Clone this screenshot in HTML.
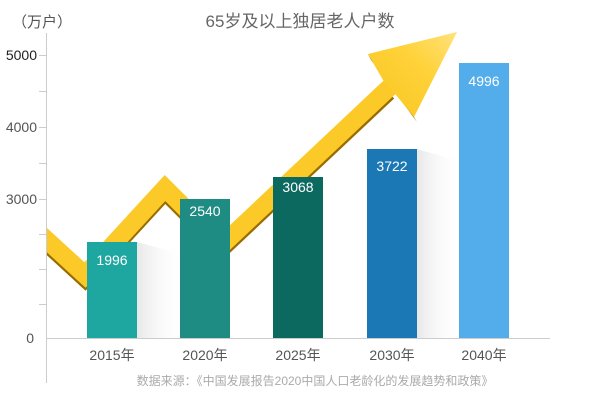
<!DOCTYPE html>
<html><head><meta charset="utf-8"><style>
body{margin:0;background:#fff;}
svg text{font-family:"Liberation Sans","Noto Sans CJK SC",sans-serif;}
</style></head><body>
<svg width="600" height="400" xmlns="http://www.w3.org/2000/svg">
<defs>
<linearGradient id="g" x1="0" y1="1" x2="1" y2="0">
<stop offset="0" stop-color="#f8c51e"/><stop offset="0.6" stop-color="#ffd23a"/><stop offset="1" stop-color="#ffe27a"/></linearGradient>
<linearGradient id="sh" x1="0" y1="0" x2="1" y2="0"><stop offset="0" stop-color="#e8e8e8"/><stop offset="1" stop-color="#fff" stop-opacity="0"/></linearGradient>
<clipPath id="c"><rect x="47" y="0" width="553" height="400"/></clipPath>
</defs>
<text x="12" y="27" font-size="15" fill="#555">（万户）</text>
<text x="300" y="27" font-size="17" fill="#666" text-anchor="middle">65岁及以上独居老人户数</text>
<line x1="46.5" y1="33" x2="46.5" y2="383" stroke="#ccc"/>
<line x1="46" y1="338.5" x2="550" y2="338.5" stroke="#ccc"/>
<g stroke="#ccc"><line x1="39" y1="55.5" x2="46" y2="55.5"/><line x1="39" y1="91.5" x2="46" y2="91.5"/><line x1="39" y1="127.5" x2="46" y2="127.5"/><line x1="39" y1="163.5" x2="46" y2="163.5"/><line x1="39" y1="199.5" x2="46" y2="199.5"/><line x1="39" y1="234.5" x2="46" y2="234.5"/><line x1="39" y1="269.5" x2="46" y2="269.5"/><line x1="39" y1="304.5" x2="46" y2="304.5"/></g>
<g font-size="14" fill="#555" text-anchor="end"><text x="37" y="60" fill="#222">5000</text><text x="37" y="132">4000</text><text x="37" y="204">3000</text><text x="34" y="343">0</text></g>
<g fill="url(#sh)"><polygon points="137,242 185,255 185,338 137,338"/><polygon points="417,149 462,162 462,338 417,338"/></g>
<g clip-path="url(#c)">
<polyline points="38,235 85,278 165,191 222,248 388,92" fill="none" stroke="#9a6c00" stroke-width="18" stroke-linejoin="miter"/>
<polyline points="38,232 85,275 165,188 222,245 392,85" fill="none" stroke="#fbc928" stroke-width="18" stroke-linejoin="miter"/>
</g>
<polygon points="368,54 371,60 417,122 414,117" fill="#9a7000"/>
<polygon points="368,54 457,32 414,117 396,95 383,80" fill="url(#g)"/>
<rect x="87" y="242" width="50" height="96" fill="#1ea7a0"/>
<rect x="180" y="199" width="50" height="139" fill="#1e8c82"/>
<rect x="273" y="177" width="50" height="161" fill="#0b6960"/>
<rect x="367" y="149" width="50" height="189" fill="#1b78b4"/>
<rect x="459" y="63" width="50" height="275" fill="#52adea"/>
<g font-size="14" fill="#fff" text-anchor="middle"><text x="112" y="265">1996</text><text x="205" y="216">2540</text><text x="298" y="192">3068</text><text x="392" y="171">3722</text><text x="484" y="86">4996</text></g>
<g font-size="14" fill="#555" text-anchor="middle"><text x="112" y="360">2015年</text><text x="205" y="360">2020年</text><text x="298" y="360">2025年</text><text x="392" y="360">2030年</text><text x="484" y="360">2040年</text></g>
<text x="315" y="385" font-size="12" fill="#aaa" text-anchor="middle">数据来源：《中国发展报告2020中国人口老龄化的发展趋势和政策》</text>
</svg>
</body></html>
